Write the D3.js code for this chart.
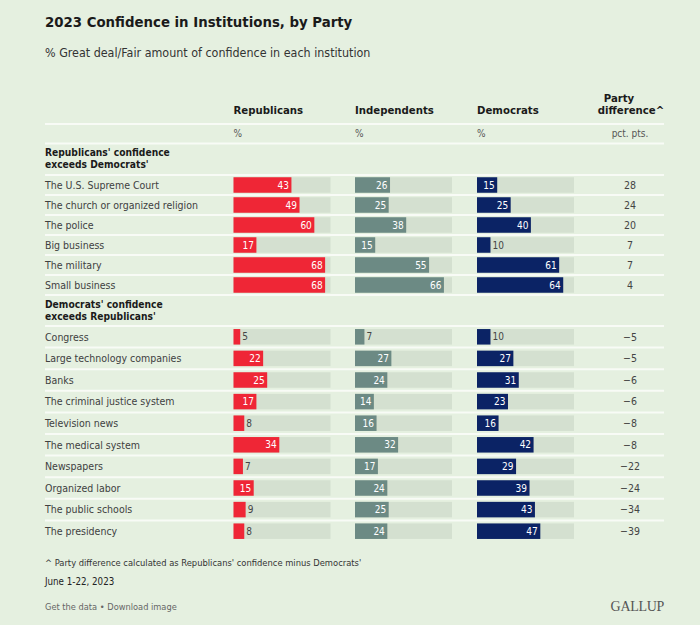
<!DOCTYPE html>
<html>
<head>
<meta charset="utf-8">
<script src="https://cdn.jsdelivr.net/npm/d3@7"></script>
<style>
  body { margin: 0; background: #e5f0e0; }
  svg { display: block; font-family: "Liberation Sans Narrow", "DejaVu Sans Condensed", sans-serif; }
</style>
</head>
<body>
<svg width="700" height="625"></svg>
<script>
// data
const parties = ['Republicans', 'Independents', 'Democrats'];
const groupTitles = [
  ["Republicans' confidence", "exceeds Democrats'"],
  ["Democrats' confidence", "exceeds Republicans'"]
];

const institutionsA = ['The U.S. Supreme Court', 'The church or organized religion', 'The police',
  'Big business', 'The military', 'Small business'];
const repA = [43, 49, 60, 17, 68, 68];
const indA = [26, 25, 38, 15, 55, 66];
const demA = [15, 25, 40, 10, 61, 64];
const diffA = [28, 24, 20, 7, 7, 4];

const institutionsB = ['Congress', 'Large technology companies', 'Banks', 'The criminal justice system',
  'Television news', 'The medical system', 'Newspapers', 'Organized labor', 'The public schools',
  'The presidency'];
const repB = [5, 22, 25, 17, 8, 34, 7, 15, 9, 8];
const indB = [7, 27, 24, 14, 16, 32, 17, 24, 25, 24];
const demB = [10, 27, 31, 23, 16, 42, 29, 39, 43, 47];
const diffB = [-5, -5, -6, -6, -8, -8, -22, -24, -34, -39];

const colors = ['#ef2636', '#6c8a84', '#0b2365'];
const trackColor = '#d4e0d0';
const lineColor = '#f8fbf6';

const svg = d3.select('svg');
const left = 45, right = 664;
const colX = d3.scaleOrdinal().domain(parties).range([233.5, 355, 477]);
const xScale = d3.scaleLinear().domain([0, 72]).range([0, 97]);
const diffX = 630;

function fmt(v) {
  return v < 0 ? '\u2212' + Math.abs(v) : String(v);
}

// titles
svg.append('text').attr('x', left).attr('y', 27)
  .attr('font-size', 14.8).attr('font-weight', 'bold').attr('fill', '#1a1a1a')
  .text('2023 Confidence in Institutions, by Party');
svg.append('text').attr('x', left).attr('y', 57)
  .attr('font-size', 12.4).attr('fill', '#333')
  .text('% Great deal/Fair amount of confidence in each institution');

// column headers
svg.selectAll('.colHead').data(parties).enter().append('text')
  .attr('x', d => colX(d)).attr('y', 114)
  .attr('font-size', 11.3).attr('font-weight', 'bold').attr('fill', '#1a1a1a')
  .text(d => d);
svg.selectAll('.pct').data(parties).enter().append('text')
  .attr('x', d => colX(d)).attr('y', 137)
  .attr('font-size', 10).attr('fill', '#555')
  .text('%');
svg.append('text').attr('x', 619).attr('y', 102).attr('text-anchor', 'middle')
  .attr('font-size', 11.3).attr('font-weight', 'bold').attr('fill', '#1a1a1a').text('Party');
svg.append('text').attr('x', 631).attr('y', 114).attr('text-anchor', 'middle')
  .attr('font-size', 11.3).attr('font-weight', 'bold').attr('fill', '#1a1a1a').text('difference^');
svg.append('text').attr('x', diffX).attr('y', 137).attr('text-anchor', 'middle')
  .attr('font-size', 10).attr('fill', '#555').text('pct. pts.');

function hline(y) {
  svg.append('line').attr('x1', left).attr('x2', right)
    .attr('y1', y).attr('y2', y)
    .attr('stroke', lineColor).attr('stroke-width', 2);
}
hline(124);
hline(143.5);

function drawGroup(titleLines, titleY, names, values, diffs, y) {
  svg.append('text').attr('x', left).attr('y', titleY)
    .attr('font-size', 10.2).attr('font-weight', 'bold').attr('fill', '#1a1a1a')
    .selectAll('tspan').data(titleLines).enter().append('tspan')
    .attr('x', left).attr('dy', (d, i) => i ? 12 : 0)
    .text(d => d);

  names.forEach((name, i) => {
    const y0 = y(name);
    const cy = y0 + y.step() / 2;
    hline(y0);
    svg.append('text').attr('x', left).attr('y', cy + 3.8)
      .attr('font-size', 10.5).attr('fill', '#404040').text(name);

    parties.forEach((p, j) => {
      const v = values[j][i];
      const bx = colX(p);
      const bh = 15.5;
      svg.append('rect').attr('x', bx).attr('y', cy - bh / 2)
        .attr('width', xScale(72)).attr('height', bh).attr('fill', trackColor);
      svg.append('rect').attr('x', bx).attr('y', cy - bh / 2)
        .attr('width', xScale(v)).attr('height', bh).attr('fill', colors[j]);
      const inside = xScale(v) > 16;
      svg.append('text')
        .attr('x', inside ? bx + xScale(v) - 2.5 : bx + xScale(v) + 2)
        .attr('y', cy + 3.6)
        .attr('text-anchor', inside ? 'end' : 'start')
        .attr('font-size', 10).attr('fill', inside ? '#fff' : '#444')
        .text(v);
    });

    svg.append('text').attr('x', diffX).attr('y', cy + 3.8).attr('text-anchor', 'middle')
      .attr('font-size', 10.5).attr('fill', '#444').text(fmt(diffs[i]));
  });
}

const yA = d3.scaleBand().domain(institutionsA).range([175, 295]);
const yB = d3.scaleBand().domain(institutionsB).range([326, 542]);

drawGroup(groupTitles[0], 156, institutionsA, [repA, indA, demA], diffA, yA);
hline(295);
drawGroup(groupTitles[1], 307.5, institutionsB, [repB, indB, demB], diffB, yB);

// footer
svg.append('text').attr('x', left).attr('y', 565.5)
  .attr('font-size', 9.3).attr('fill', '#333')
  .text("^ Party difference calculated as Republicans' confidence minus Democrats'");
svg.append('text').attr('x', left).attr('y', 584.5)
  .attr('font-size', 9.7).attr('fill', '#222')
  .text('June 1-22, 2023');
svg.append('text').attr('x', left).attr('y', 609.5)
  .attr('font-size', 9.2).attr('fill', '#666')
  .text('Get the data \u2022 Download image');
svg.append('text').attr('x', right).attr('y', 611).attr('text-anchor', 'end')
  .attr('font-family', '"Liberation Serif", "DejaVu Serif", serif')
  .attr('font-size', 14).attr('fill', '#555').attr('letter-spacing', -0.3)
  .text('GALLUP');
</script>
</body>
</html>
